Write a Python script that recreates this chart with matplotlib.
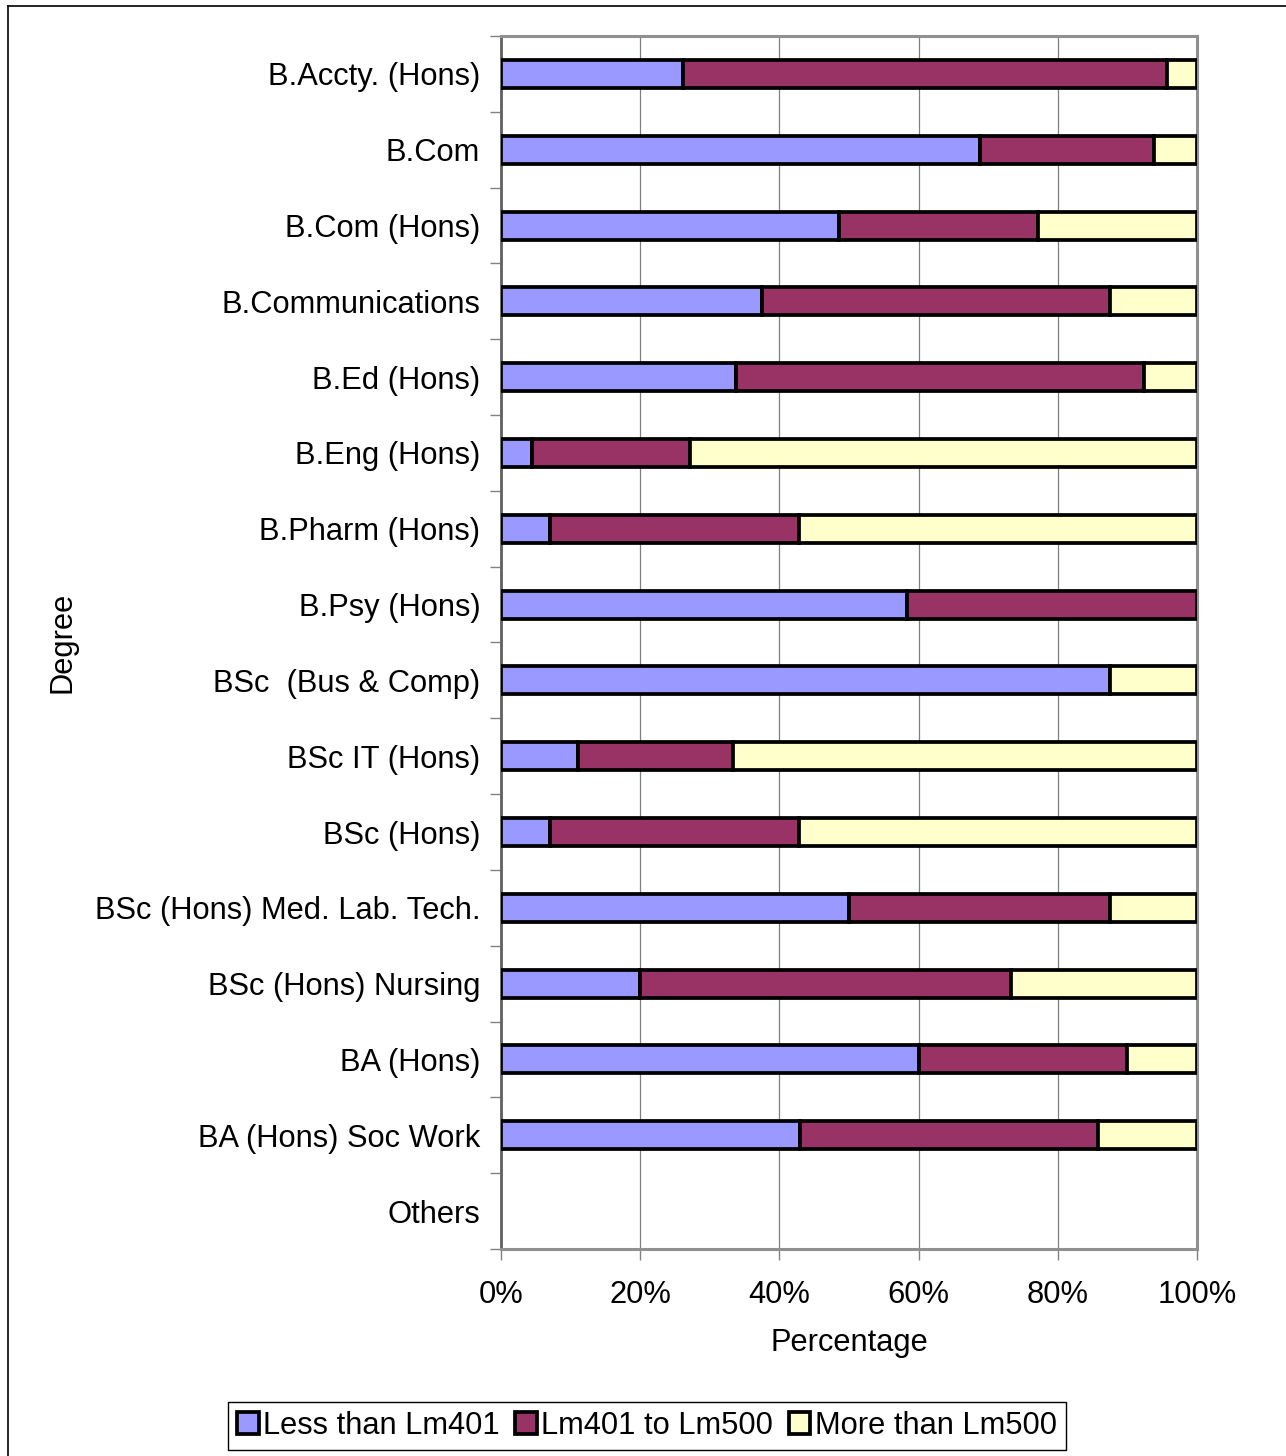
import matplotlib
matplotlib.use("Agg")
import matplotlib.pyplot as plt
from matplotlib.lines import Line2D
import numpy as np

plt.rcParams['font.family'] = ['Liberation Sans', 'DejaVu Sans']

categories = ["B.Accty. (Hons)", "B.Com", "B.Com (Hons)", "B.Communications",
              "B.Ed (Hons)", "B.Eng (Hons)", "B.Pharm (Hons)", "B.Psy (Hons)",
              "BSc  (Bus & Comp)", "BSc IT (Hons)", "BSc (Hons)",
              "BSc (Hons) Med. Lab. Tech.", "BSc (Hons) Nursing", "BA (Hons)",
              "BA (Hons) Soc Work", "Others"]
less_401 = [26.1, 68.75, 48.6, 37.5, 33.8, 4.5, 7.1, 58.3, 87.5, 11.1, 7.1, 50.0, 20.0, 60.0, 42.9, 0]
lm401_500 = [69.6, 25.0, 28.6, 50.0, 58.6, 22.7, 35.7, 41.7, 0.0, 22.2, 35.7, 37.5, 53.3, 30.0, 42.9, 0]
more_500 = [4.3, 6.25, 22.8, 12.5, 7.6, 72.8, 57.2, 0.0, 12.5, 66.7, 57.2, 12.5, 26.7, 10.0, 14.2, 0]
series_names = ["Less than Lm401", "Lm401 to Lm500", "More than Lm500"]
colors = ["#9999FF", "#993366", "#FFFFCC"]
xticks = [0, 20, 40, 60, 80, 100]
xtick_labels = ["0%", "20%", "40%", "60%", "80%", "100%"]

W, H = 1286, 1456
FS = 22.2
fig = plt.figure(figsize=(W/100, H/100), dpi=100)
ax = fig.add_axes([501/W, 1-1249/H, 696/W, 1213/H])

n = len(categories)
y = np.arange(n)
left = np.zeros(n)
handles = []
for vals, name, c in zip([less_401, lm401_500, more_500], series_names, colors):
    vals = np.array(vals, dtype=float)
    mask = vals > 0
    b = ax.barh(y[mask], vals[mask], left=left[mask], height=0.37, color=c,
                edgecolor='black', linewidth=2.7, zorder=3, label=name)
    left += vals
    handles.append(b)

ax.set_xlim(0, 100)
ax.set_ylim(n-0.5, -0.5)
ax.set_xticks(xticks)
ax.set_xticklabels(xtick_labels, fontsize=FS)
ax.tick_params(axis='x', direction='out', length=8, width=1, color='#808080', pad=14)
ax.set_yticks(y)
ax.set_yticklabels(categories, fontsize=FS)
ax.tick_params(axis='y', which='major', length=0, pad=15)
ax.set_yticks(np.arange(-0.5, n, 1.0), minor=True)
ax.tick_params(axis='y', which='minor', direction='out', length=8, width=1, color='#808080')

ax.grid(axis='x', color='#808080', linewidth=0.9, zorder=0)
ax.set_axisbelow(True)
for s in ['top', 'right', 'bottom']:
    ax.spines[s].set_color('#909090')
    ax.spines[s].set_linewidth(2.2)
ax.spines['left'].set_color('#606060')
ax.spines['left'].set_linewidth(2.0)

fig.text(849/W, 1-1343/H, "Percentage", fontsize=FS, ha='center', va='center')
fig.text(63/W, 1-642/H, "Degree", fontsize=FS, ha='center', va='center', rotation=90)

leg = fig.legend(handles=handles, labels=series_names, loc='center',
                 bbox_to_anchor=(647/W, 1-1426/H), ncol=3, fontsize=FS,
                 frameon=True, fancybox=False, edgecolor='black', framealpha=1,
                 handlelength=0.7, handleheight=0.7, handletextpad=0.15,
                 columnspacing=0.5, borderpad=0.3, borderaxespad=0)
leg.get_frame().set_linewidth(1.0)

# figure border
fig.add_artist(Line2D([8/W, 8/W], [0, 1-6/H], color='black', linewidth=1.2, transform=fig.transFigure))
fig.add_artist(Line2D([8/W, 1], [1-6/H, 1-6/H], color='black', linewidth=1.2, transform=fig.transFigure))

fig.savefig("out.png", dpi=100)
